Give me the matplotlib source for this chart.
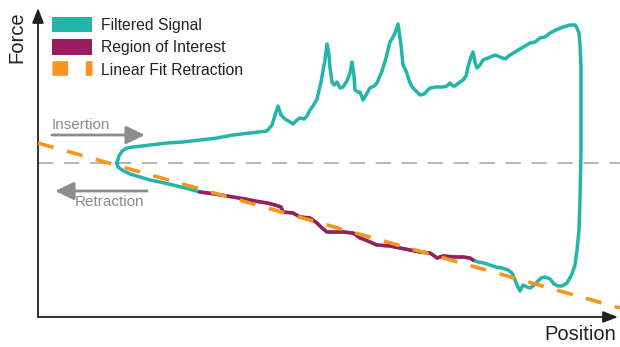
"""Force vs position trace: insertion / retraction with linear fit on the retraction."""

import numpy as np
import matplotlib.pyplot as plt
from matplotlib.patches import Patch
from matplotlib.lines import Line2D

plt.rcParams["font.family"] = ["Liberation Sans", "DejaVu Sans"]

# values (x = position, y = force, zero at the dashed line)
insertion_x = [117, 119, 122, 127, 133, 150, 167, 183, 200, 217, 233, 250, 267, 272, 276, 278,
               281, 285, 290, 293, 297, 300, 304, 307, 310, 313, 317, 321, 325, 327, 329, 330,
               332, 334, 337, 340, 343, 347, 350, 352, 354, 355, 358, 360, 363, 366, 370, 374,
               377, 382, 386, 390, 393, 395, 398, 401, 403, 406, 408, 410, 413, 416, 420, 424,
               430, 436, 443, 447, 450, 453, 455, 460, 463, 466, 468, 471, 473, 475, 477, 480,
               483, 488, 495, 500, 505, 510, 520, 530, 535, 540, 545, 550, 556, 563, 570, 575,
               577, 579, 580, 581]
insertion_y = [163, 156, 151, 148, 147, 145, 143, 142, 140, 138, 135, 133, 131, 125, 112, 106,
               115, 119, 122, 124, 120, 118, 119, 116, 110, 106, 99, 82, 60, 44, 55, 68,
               82, 85, 82, 88, 87, 81, 73, 62, 76, 90, 92, 92, 100, 95, 88, 86,
               83, 71, 58, 42, 37, 33, 24, 45, 65, 71, 77, 83, 88, 91, 95, 94,
               88, 87, 87, 86, 83, 86, 86, 82, 80, 76, 67, 57, 52, 62, 68, 65,
               60, 58, 55, 57, 59, 55, 49, 43, 42, 38, 37, 33, 30, 27, 25, 25,
               28, 33, 45, 67]

turn_x = [581, 581, 580, 579, 577, 575, 572, 567, 562, 558, 554, 550, 545, 541, 537, 533,
          530, 527, 523, 520, 517, 515, 512, 508, 502, 496, 490, 484, 478, 473]
turn_y = [100, 150, 200, 230, 250, 265, 274, 283, 286, 286, 284, 279, 277, 278, 282, 286,
          288, 287, 285, 291, 285, 280, 273, 270, 268, 267, 265, 263, 262, 260]

roi_x = [473, 470, 463, 455, 443, 440, 437, 433, 430, 420, 410, 400, 390, 377, 370, 363,
         360, 356, 353, 343, 335, 327, 322, 317, 313, 310, 300, 293, 283, 281, 275, 267,
         255, 245, 233, 215, 200]
roi_y = [260, 258, 257, 257, 256, 257, 258, 255, 253, 252, 250, 248, 246, 245, 242, 239,
         238, 235, 233, 232, 232, 232, 228, 223, 220, 218, 217, 213, 212, 207, 205, 203,
         201, 199, 197, 194, 192]

retract_end_x = [200, 185, 173, 160, 150, 140, 130, 122, 118, 117]
retract_end_y = [192, 188, 185, 182, 180, 177, 174, 170, 167, 163]

fit_x = [38, 620]
fit_y = [143, 308]

X0, Y0 = 38, 163  # reading origin -> position 0, force 0


def to_data(xs, ys):
    return np.array(xs, float) - X0, Y0 - np.array(ys, float)


TEAL = "#22b5a9"
PURPLE = "#9b1d5f"
ORANGE = "#f7941d"
GREY = "#8c8c8c"

fig = plt.figure(figsize=(6.2, 3.47), dpi=100)
ax = fig.add_axes([38 / 620, 30 / 347, 580 / 620, 309 / 347])
ax.set_xlim(0, 580)
ax.set_ylim(-154, 155)
for s in ax.spines.values():
    s.set_visible(False)
ax.set_xticks([])
ax.set_yticks([])

# axes with arrow heads
ax.annotate("", xy=(1, 0), xytext=(0, 0), xycoords="axes fraction",
            arrowprops=dict(arrowstyle="-|>,head_length=0.9,head_width=0.35",
                            lw=1.3, color="#222222", mutation_scale=10,
                            shrinkA=0, shrinkB=0))
ax.annotate("", xy=(0, 1), xytext=(0, 0), xycoords="axes fraction",
            arrowprops=dict(arrowstyle="-|>,head_length=0.9,head_width=0.35",
                            lw=1.3, color="#222222", mutation_scale=10,
                            shrinkA=0, shrinkB=0))

ax.axhline(0, color="#a0a0a0", lw=1.1, linestyle=(0, (10, 7)), clip_on=False,
           xmax=1.004)

sig_x = insertion_x + turn_x + roi_x + retract_end_x
sig_y = insertion_y + turn_y + roi_y + retract_end_y
ax.plot(*to_data(sig_x, sig_y), color=TEAL, lw=2.5, solid_joinstyle="round", zorder=3)
ax.plot(*to_data(roi_x, roi_y), color=PURPLE, lw=2.5, solid_joinstyle="round", zorder=4)
ax.plot(*to_data(fit_x, fit_y), color=ORANGE, lw=2.6, linestyle=(0, (4.5, 3.8)),
        clip_on=False, zorder=5)

# insertion / retraction annotations
arrow_kw = dict(arrowstyle="-|>,head_length=1.15,head_width=0.55", lw=2.0,
                color=GREY, mutation_scale=10, shrinkA=0, shrinkB=0)
ax.annotate("", xy=(145 - X0, Y0 - 135), xytext=(52 - X0, Y0 - 135), arrowprops=arrow_kw)
ax.annotate("", xy=(55 - X0, Y0 - 191), xytext=(147 - X0, Y0 - 191), arrowprops=arrow_kw)
ax.text(52 - X0, Y0 - 125, "Insertion", fontsize=11, color=GREY, ha="left", va="center")
ax.text(75 - X0, Y0 - 202, "Retraction", fontsize=11, color=GREY, ha="left", va="center")

fig.text(17 / 620, 1 - 37 / 347, "Force", rotation=90, fontsize=14.5, color="#222222",
         ha="center", va="center")
fig.text(580 / 620, 1 - 335 / 347, "Position", fontsize=14.5, color="#222222",
         ha="center", va="center")

handles = [
    Patch(facecolor=TEAL, edgecolor="none"),
    Patch(facecolor=PURPLE, edgecolor="none"),
    Line2D([], [], color=ORANGE, lw=10.5, linestyle=(0, (1.07, 1.21))),
]
labels = ["Filtered Signal", "Region of Interest", "Linear Fit Retraction"]
ax.legend(handles, labels, loc="upper left", bbox_to_anchor=(52 / 620, 1 - 17 / 347),
          bbox_transform=fig.transFigure, frameon=False, fontsize=11.3,
          handlelength=2.52, handleheight=1.1, handletextpad=0.6,
          labelspacing=0.42, borderpad=0, borderaxespad=0, labelcolor="#222222")

fig.savefig("out.png", dpi=100)
